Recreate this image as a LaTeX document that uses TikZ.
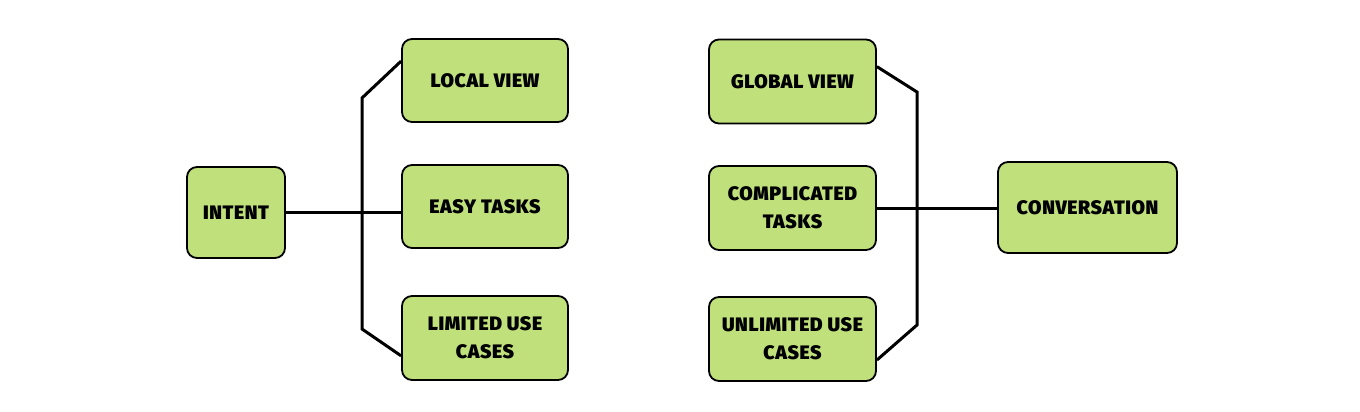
\documentclass[tikz,border=0pt]{standalone}
\usepackage{fontspec}
\setmainfont{Fira Sans}[BoldFont={Fira Sans Black}, LetterSpace=3]
\usepackage{xcolor}
\usepackage{tikz}

\definecolor{boxgreen}{HTML}{BFE07B}

\tikzset{
  card/.style={draw=black, line width=1.8pt, fill=boxgreen, rounded corners=10pt,
    align=center, font=\fontsize{19.5}{28}\selectfont\bfseries},
  link/.style={draw=black, line width=3pt}
}

\begin{document}
\begin{tikzpicture}[x=1pt,y=-1pt]
    \useasboundingbox (0,0) rectangle (1360,412);

    % Left side
    \node[card, minimum width=98pt, minimum height=91pt] (intent) at (236,212.5) {INTENT};
    \node[card, minimum width=166pt, minimum height=83pt] (local) at (485,80.5) {LOCAL VIEW};
    \node[card, minimum width=166pt, minimum height=83pt] (easy) at (485,206.5) {EASY TASKS};
    \node[card, minimum width=166pt, minimum height=84pt] (limited) at (485,338) {LIMITED USE\\CASES};

    \coordinate (lt) at (362,98);
    \coordinate (lb) at (362,329);
    \draw[link] (local.167) -- (lt) -- (lb) -- (limited.192);
    \draw[link] (intent.east) -- (intent.east -| easy.west);

    % Right side
    \node[card, minimum width=167pt, minimum height=84pt] (global) at (792.5,81.5) {GLOBAL VIEW};
    \node[card, minimum width=167pt, minimum height=84pt] (complicated) at (792.5,208) {COMPLICATED\\TASKS};
    \node[card, minimum width=167pt, minimum height=84pt] (unlimited) at (792.5,339) {UNLIMITED USE\\CASES};
    \node[card, minimum width=179pt, minimum height=91pt] (conversation) at (1087.5,207.5) {CONVERSATION};

    \coordinate (rt) at (917,92);
    \coordinate (rb) at (917,325);
    \draw[link] (global.10) -- (rt) -- (rb) -- (unlimited.-14);
    \draw[link] (complicated.east) -- (complicated.east -| conversation.west);
\end{tikzpicture}
\end{document}
